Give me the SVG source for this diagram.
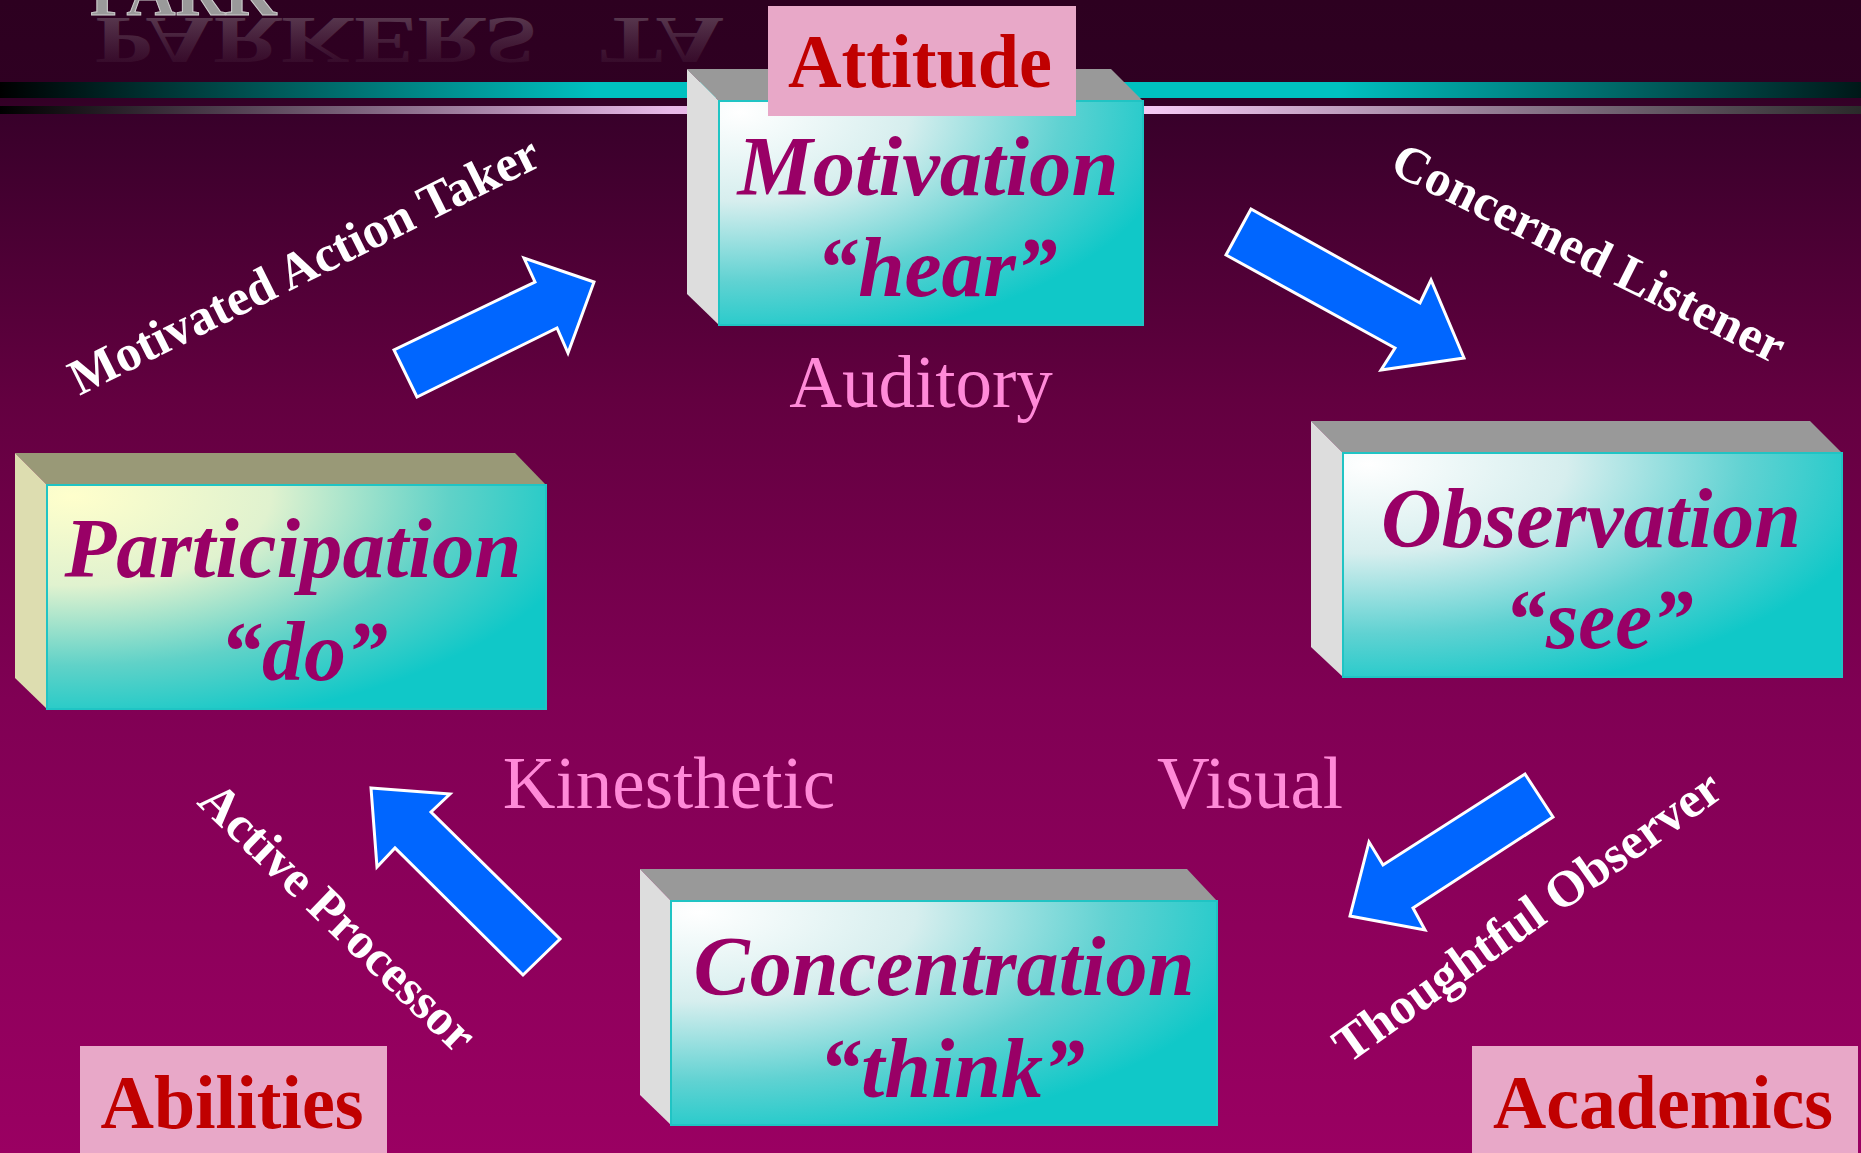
<svg xmlns="http://www.w3.org/2000/svg" width="1861" height="1153" viewBox="0 0 1861 1153">
<defs>
<linearGradient id="bg" x1="0" y1="0" x2="0" y2="1153" gradientUnits="userSpaceOnUse">
<stop offset="0" stop-color="#2d0020"/>
<stop offset="0.075" stop-color="#2f0022"/>
<stop offset="0.1" stop-color="#38002a"/>
<stop offset="0.347" stop-color="#630040"/>
<stop offset="0.607" stop-color="#800054"/>
<stop offset="1" stop-color="#9a0062"/>
</linearGradient>
<linearGradient id="tealbar" x1="0" y1="0" x2="1861" y2="0" gradientUnits="userSpaceOnUse">
<stop offset="0" stop-color="#000000"/>
<stop offset="0.32" stop-color="#00c0c0"/>
<stop offset="0.72" stop-color="#00c0c0"/>
<stop offset="1" stop-color="#001818"/>
</linearGradient>
<linearGradient id="pinkbar" x1="0" y1="0" x2="1861" y2="0" gradientUnits="userSpaceOnUse">
<stop offset="0" stop-color="#000000"/>
<stop offset="0.36" stop-color="#e8b8e8"/>
<stop offset="0.62" stop-color="#f4c8f4"/>
<stop offset="1" stop-color="#2a2a2a"/>
</linearGradient>
<radialGradient id="faceCyan" cx="0.05" cy="0.05" r="1.05" fx="0.05" fy="0.05">
<stop offset="0" stop-color="#ffffff"/>
<stop offset="0.38" stop-color="#d6eeee"/>
<stop offset="0.72" stop-color="#60d2d2"/>
<stop offset="1" stop-color="#10c8c8"/>
</radialGradient>
<radialGradient id="faceYellow" cx="0.05" cy="0.05" r="1.05" fx="0.05" fy="0.05">
<stop offset="0" stop-color="#ffffcc"/>
<stop offset="0.38" stop-color="#e0f2cf"/>
<stop offset="0.72" stop-color="#60d2c8"/>
<stop offset="1" stop-color="#10c8c8"/>
</radialGradient>
<linearGradient id="reflFade" x1="0" y1="0" x2="0" y2="1">
<stop offset="0" stop-color="#5a3a50" stop-opacity="0"/>
<stop offset="1" stop-color="#6e5466" stop-opacity="0.85"/>
</linearGradient>
<style>
.top{fill:#999999}
.side{fill:#dddddd}
.front{fill:url(#faceCyan);stroke:#20c4c4;stroke-width:2}
.node{font-family:"Liberation Serif","Times New Roman",serif;font-weight:bold;font-style:italic;font-size:84px;fill:#990066;text-anchor:middle}
.tag{fill:#e8a8c8}
.tagtext{font-family:"Liberation Serif","Times New Roman",serif;font-weight:bold;font-size:76px;fill:#c00000;text-anchor:middle}
.sense{font-family:"Liberation Serif","Times New Roman",serif;font-size:73px;fill:#ff8ad8;text-anchor:middle}
.lbl{font-family:"Liberation Serif","Times New Roman",serif;font-weight:bold;font-size:51px;fill:#ffffff;text-anchor:middle}
.arrow{fill:#0066ff;stroke:#ffffff;stroke-width:3;stroke-linejoin:miter}
.title{font-family:"Liberation Serif","Times New Roman",serif;font-weight:bold;font-size:68px;fill:#9a9a9a;stroke:#d0d0d0;stroke-width:1}
.refl{font-family:"Liberation Serif","Times New Roman",serif;font-weight:bold;font-size:94px;fill:url(#reflFade)}
</style>
</defs>

<rect x="0" y="0" width="1861" height="1153" fill="url(#bg)"/>

<g id="title">
<text class="refl" x="95" y="0" transform="translate(0,18) scale(1,-0.72)">PARKERS</text>
<text class="refl" x="600" y="0" transform="translate(0,18) scale(1,-0.72)">TA</text>
<text class="title" x="90" y="15">PARK</text>
</g>

<g id="bars">
<rect x="0" y="82" width="1861" height="16" fill="url(#tealbar)"/>
<rect x="0" y="106" width="1861" height="8" fill="url(#pinkbar)"/>
</g>

<g id="connectors">
<polygon class="arrow" points="417,397 394,350 535,282 524,258 594,282 568,353 557,328"/>
<polygon class="arrow" points="1251,209 1420,303 1431,280 1464,358 1381,370 1395,348 1226,255"/>
<polygon class="arrow" points="1525,774 1553,817 1413,908 1425,930 1350,916 1369,842 1383,865"/>
<polygon class="arrow" points="371,788 450,794 431,812 560,939 523,975 395,848 377,867"/>
</g>

<g id="motivation">
<polygon class="top" points="687,69 1111,69 1143,101 719,101"/>
<polygon class="side" points="687,69 719,101 719,325 687,294"/>
<rect class="front" x="719" y="101" width="424" height="224"/>
<text class="node" x="928" y="195" textLength="381" lengthAdjust="spacingAndGlyphs">Motivation</text>
<text class="node" x="937" y="296" textLength="241" lengthAdjust="spacingAndGlyphs">“hear”</text>
</g>

<g id="attitude">
<rect class="tag" x="768" y="6" width="308" height="110"/>
<text class="tagtext" x="920" y="87" textLength="264" lengthAdjust="spacingAndGlyphs">Attitude</text>
</g>

<g id="observation">
<polygon class="top" points="1311,421 1810,421 1842,453 1343,453"/>
<polygon class="side" points="1311,421 1343,453 1343,677 1311,647"/>
<rect class="front" x="1343" y="453" width="499" height="224"/>
<text class="node" x="1591" y="547" textLength="420" lengthAdjust="spacingAndGlyphs">Observation</text>
<text class="node" x="1599" y="648" textLength="189" lengthAdjust="spacingAndGlyphs">“see”</text>
</g>

<g id="participation">
<polygon points="15,453 515,453 546,485 47,485" fill="#999977"/>
<polygon points="15,453 47,485 47,709 15,678" fill="#ddddb0"/>
<rect x="47" y="485" width="499" height="224" fill="url(#faceYellow)" stroke="#20c4c4" stroke-width="2"/>
<text class="node" x="293" y="577" textLength="457" lengthAdjust="spacingAndGlyphs">Participation</text>
<text class="node" x="304" y="680" textLength="168" lengthAdjust="spacingAndGlyphs">“do”</text>
</g>

<g id="concentration">
<polygon class="top" points="640,869 1187,869 1217,901 671,901"/>
<polygon class="side" points="640,869 671,901 671,1125 640,1095"/>
<rect class="front" x="671" y="901" width="546" height="224"/>
<text class="node" x="944" y="995" textLength="501" lengthAdjust="spacingAndGlyphs">Concentration</text>
<text class="node" x="952" y="1097" textLength="266" lengthAdjust="spacingAndGlyphs">“think”</text>
</g>

<g id="abilities">
<rect class="tag" x="80" y="1046" width="307" height="107"/>
<text class="tagtext" x="232" y="1128" textLength="263" lengthAdjust="spacingAndGlyphs">Abilities</text>
</g>

<g id="academics">
<rect class="tag" x="1472" y="1046" width="386" height="107"/>
<text class="tagtext" x="1663" y="1128" textLength="340" lengthAdjust="spacingAndGlyphs">Academics</text>
</g>

<g id="senses">
<text class="sense" x="921" y="407">Auditory</text>
<text class="sense" x="669" y="808">Kinesthetic</text>
<text class="sense" x="1250" y="808">Visual</text>
</g>

<g id="labels">
<text class="lbl" transform="translate(304,265) rotate(-26.5)" x="0" y="17">Motivated Action Taker</text>
<text class="lbl" transform="translate(1589,253) rotate(26.5)" x="0" y="17">Concerned Listener</text>
<text class="lbl" transform="translate(338,917) rotate(44)" x="0" y="17">Active Processor</text>
<text class="lbl" transform="translate(1530,920) rotate(-35.5)" x="0" y="12">Thoughtful Observer</text>
</g>
</svg>
